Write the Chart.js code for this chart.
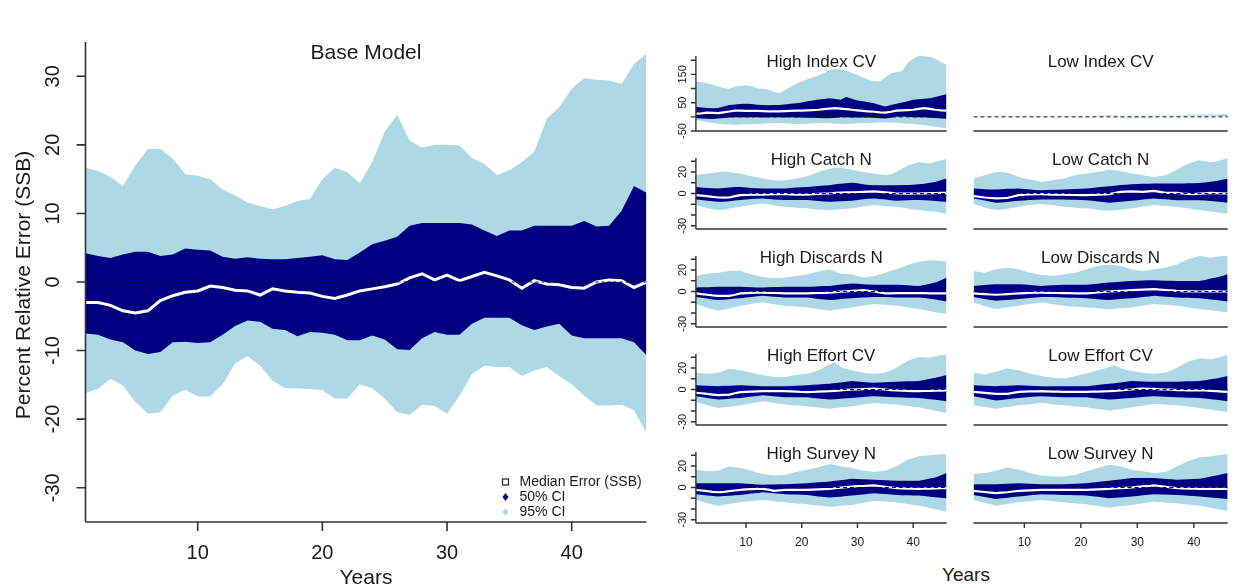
<!DOCTYPE html>
<html>
<head>
<meta charset="utf-8">
<script src="https://cdn.jsdelivr.net/npm/chart.js@4.4.1/dist/chart.umd.min.js"></script>
<style>
  body { margin: 0; background: #fff; }
  #wrap { position: relative; width: 1241px; height: 588px; overflow: hidden; font-family: "Liberation Sans", Arial, sans-serif; }
  #wrap canvas { position: absolute; }
  #yearsRight { position: absolute; left: 916px; top: 564px; width: 100px; text-align: center; font-size: 19px; color: #1a1a1a; }
</style>
</head>
<body>
<div id="wrap">
  <canvas id="base" width="660" height="588" style="left:0;top:0"></canvas>
  <div id="yearsRight">Years</div>
</div>
<script>
// simulation years
const years = [1,2,3,4,5,6,7,8,9,10,11,12,13,14,15,16,17,18,19,20,21,22,23,24,25,26,27,28,29,30,31,32,33,34,35,36,37,38,39,40,41,42,43,44,45,46];

// Base model: percent relative error in SSB
const baseHi95 = [16.7,16.2,15.3,14.0,17.0,19.4,19.4,18.0,15.7,15.5, 15.0,13.5,12.6,11.6,11.1,10.6,11.1,11.8,12.1,15.0, 16.7,16.0,14.4,17.5,21.9,24.4,20.6,19.6,20.0,20.0, 19.9,18.1,17.2,15.6,16.3,17.5,19.0,23.8,25.5,28.2, 29.7,29.5,29.4,28.9,31.8,33.3];
const baseHi50 = [4.2,3.8,3.5,4.0,4.4,4.4,3.8,4.0,4.9,4.7, 4.6,3.7,3.4,3.6,3.4,3.3,3.3,3.5,3.7,3.9, 3.3,3.2,4.3,5.5,6.0,6.6,8.2,8.6,8.6,8.6, 8.6,8.4,7.5,6.7,7.5,7.5,8.2,8.2,8.2,8.2, 8.9,8.1,8.2,10.4,14.0,13.0];
const baseMed = [-3.0,-3.0,-3.4,-4.2,-4.5,-4.2,-2.7,-2.0,-1.5,-1.3, -0.6,-0.8,-1.2,-1.3,-1.9,-1.0,-1.3,-1.5,-1.6,-2.1, -2.4,-1.9,-1.3,-1.0,-0.7,-0.3,0.6,1.2,0.3,1.0, 0.2,0.8,1.4,0.9,0.3,-0.9,0.2,-0.3,-0.4,-0.8, -0.9,0.0,0.3,0.2,-0.8,0.0];
const baseLo50 = [-7.5,-7.7,-8.4,-8.8,-10.0,-10.5,-10.2,-8.8,-8.7,-8.9, -8.8,-7.7,-6.4,-5.6,-5.8,-6.8,-7.0,-7.9,-7.3,-7.4, -7.7,-8.5,-8.5,-7.8,-8.4,-9.8,-9.9,-8.2,-7.3,-7.7, -7.7,-6.1,-5.2,-5.2,-5.2,-6.3,-7.0,-6.5,-6.1,-7.8, -8.2,-8.2,-8.2,-8.2,-8.8,-10.7];
const baseLo95 = [-16.2,-15.6,-14.1,-15.1,-17.5,-19.2,-19.0,-16.6,-15.7,-16.7, -16.7,-14.9,-11.9,-10.8,-12.2,-14.4,-15.5,-15.5,-15.6,-15.8, -17.0,-17.0,-14.9,-15.5,-17.0,-19.0,-19.4,-17.9,-18.1,-19.2, -16.6,-13.4,-12.2,-12.4,-12.4,-13.7,-12.9,-12.4,-13.7,-14.9, -16.6,-18.0,-18.0,-17.9,-18.7,-22.0];

// High Index CV
const hiIndexHi95 = [125,122,119,113,107,102,99,106,110,111, 108,101,99,97,88,84,95,106,117,125, 133,140,146,155,166,169,167,164,156,149, 138,130,127,125,140,154,158,162,190,205, 216,214,212,205,194,184];
const hiIndexHi50 = [36,33,31,30,31,37,42,44,45,46, 45,43,42,41,42,42,44,46,48,51, 55,58,61,63,66,63,60,70,64,58, 55,52,48,42,37,42,46,51,55,60, 62,64,66,70,75,80];
const hiIndexMed = [11,12,15,14,13,16,19,22,22,21, 21,21,20,19,19,19,20,21,22,22, 23,24,25,27,29,31,29,27,25,23, 21,19,18,16,15,18,22,23,24,25, 28,31,28,25,23,22];
const hiIndexLo50 = [-5,-6,-7,-8,-6,-4,-2,-1,-1,-1, -1,-1,-2,-1,-1,-1,-2,-1,-2,-2, -3,-3,-4,-5,-5,-3,-1,-1,-2,-2, -2,-2,-3,-5,-6,-3,0,1,0,-1, -1,-1,-3,-4,-6,-7];
const hiIndexLo95 = [-11,-15,-19,-22,-24,-26,-27,-28,-27,-26, -26,-25,-24,-23,-22,-22,-23,-24,-25,-25, -24,-23,-22,-22,-23,-24,-25,-25,-24,-23, -22,-22,-21,-20,-20,-20,-21,-23,-24,-25, -27,-30,-32,-35,-38,-40];

// Low Index CV
const loIndexHi95 = [3,3,2,3,3,4,4,3,3,3, 3,2,2,2,2,2,3,3,3,4, 4,4,5,5,6,6,5,5,5,5, 5,5,5,4,5,5,5,6,7,8, 8,8,8,8,9,9];
const loIndexHi50 = [1,1,1,1,1,1,1,1,1,1, 1,1,1,1,1,1,1,1,1,1, 1,1,1,1,2,2,2,3,3,3, 3,2,2,2,2,2,2,2,3,3, 3,3,3,3,4,4];
const loIndexMed = [-1,-1,-1,-1,-1,-1,-1,0,0,0, 0,0,0,0,0,0,0,0,0,0, 0,0,0,0,0,0,1,1,1,1, 1,1,1,0,0,0,0,0,0,0, 0,0,0,0,0,0];
const loIndexLo50 = [-1,-1,-1,-1,-1,-1,-1,-1,-1,-1, -1,-1,-1,-1,-1,-1,-1,-1,-1,-1, -1,-1,-1,-1,-1,-1,-1,-1,-1,-1, -1,-1,-1,-1,-1,-1,-1,-1,-1,-1, -1,-1,-1,-1,-2,-2];
const loIndexLo95 = [-3,-3,-3,-3,-3,-3,-3,-3,-3,-3, -3,-3,-3,-3,-3,-3,-3,-3,-3,-3, -3,-3,-3,-3,-3,-3,-3,-3,-3,-3, -3,-3,-3,-3,-3,-3,-3,-3,-3,-3, -3,-3,-3,-4,-4,-4];

// High Catch N
const hiCatchHi95 = [17,18,18.5,19,20,20.5,20,19,18.5,17, 16,15,14,13,12.3,12,12.3,13,14,15, 16,18,20,21.5,23,24,24,23,22,21, 20,19,18.5,18,17,18,20,23,26,27.5, 29,28.5,28,29.5,31,32];
const hiCatchHi50 = [6,5.5,5,4.8,4.6,5,5.5,6,6,5.5, 5,4.8,4.6,4.6,4.6,4.6,4.6,5,5.5,5.8, 6,6.5,7,7.4,7.7,8.5,9,9.5,10,9.5, 8.5,8,7.7,7.7,7.7,7.7,7.7,8,8,8.2, 8.6,9,10,10.8,12.5,14];
const hiCatchMed = [-1.5,-2,-2.5,-3.2,-3.7,-3.8,-3.7,-2.5,-1.5,-1.2, -1,-1,-1,-0.8,-0.6,-0.6,-0.6,-0.8,-1,-1, -1,-0.6,-0.3,0,0,0.5,0.8,1,1,1.4, 1.6,1.8,2,1.6,1,0.5,0,0,-0.2,0, 0,0.2,0.3,0.4,0.5,0.6];
const hiCatchLo50 = [-5.5,-6,-6.8,-7.3,-7.7,-7.7,-7.2,-6.6,-6,-5.5, -5,-4.8,-4.6,-5,-5.5,-5.8,-6,-6,-6,-6, -6,-6.5,-7,-7.5,-7.7,-7.5,-7.2,-7,-6.8,-6, -5.3,-4.8,-4.6,-5,-5.6,-6.2,-6.8,-6.5,-6.2,-6, -6,-6.2,-6.5,-7,-7.4,-7.7];
const hiCatchLo95 = [-10.8,-12,-13.5,-14.6,-15.4,-15,-14,-13,-12.3,-11.5, -10.5,-9.8,-9.2,-10,-11,-11.8,-12.3,-12.8,-13.2,-13.5, -13.8,-14.3,-14.8,-15.2,-15.4,-15,-14.5,-14.2,-13.8,-13, -12,-11.3,-10.8,-11.2,-11.8,-12,-12.3,-13,-14,-14.8, -15.4,-16,-16.5,-17,-18,-19];

// Low Catch N
const loCatchHi95 = [13.8,15.5,17,18.5,20,20,19.4,17.5,15.4,14, 13,12,10.8,11.5,12.3,13,13.8,15.5,17,18, 18.5,19.3,20,21,22,21.5,21,20,18.5,17.8, 17,16,15.4,16,17,19.5,22,25,27.7,29.5, 30.8,30,29,30,31.4,33];
const loCatchHi50 = [4.6,4.3,4,3.8,3.7,4,4.3,4.5,4.6,4.2, 3.8,3.3,3,3.2,3.4,3.6,3.7,4,4.2,4.4, 4.6,5.2,5.8,6.3,6.8,7.3,7.8,8.2,8.6,8.8, 9,9.1,9.2,9.2,9.2,9.2,9.2,9.4,9.5,9.6, 9.8,10.3,11,11.7,12.8,13.8];
const loCatchMed = [-2.5,-3,-3.7,-4.2,-4.6,-4.4,-4,-2.8,-1.5,-1, -0.8,-0.7,-0.6,-0.8,-1,-1,-1,-1.2,-1.4,-1.5, -1.5,-1.2,-1,-0.8,-0.6,0.5,1.5,1.8,2,1.8, 1.5,2,2.5,1.5,0.6,0.6,0.6,0,-0.4,-0.6, -0.2,0.2,0.6,0.4,0.2,0];
const loCatchLo50 = [-4.6,-5.5,-6.5,-7.6,-8.6,-8.4,-7.8,-7.2,-6.8,-6.4, -6,-5.8,-5.5,-5.5,-5.5,-5.5,-5.5,-5.7,-5.9,-6, -6.2,-6.8,-7.4,-8,-8.6,-8.2,-7.6,-7.2,-6.8,-6.2, -5.5,-5,-4.6,-5,-5.4,-5.8,-6.2,-6.2,-6.2,-6.2, -6.2,-6.6,-7,-7.5,-8,-8.6];
const loCatchLo95 = [-9.8,-11.5,-13,-14.3,-15.4,-15,-14.2,-13.2,-12.3,-11.5, -10.8,-10.2,-9.8,-10.4,-11,-11.7,-12.3,-12.8,-13.3,-13.6, -13.8,-14.4,-15,-15.6,-16,-15.6,-15,-14.4,-13.8,-13, -12.2,-11.4,-10.8,-11.2,-11.7,-12,-12.3,-13,-13.8,-14.6, -15.4,-16,-16.8,-17.5,-18.2,-19];

// High Discards N
const hiDiscHi95 = [14.5,15.5,16.6,17,17.5,18.3,19,19.2,19,17.5, 16,14.7,13.5,12.8,12.3,12.5,13,13.8,14.5,15.2, 16,17.3,18.5,19.6,20.6,18.5,16.6,16.3,16,14.5, 13,13.7,14.5,16,17.5,19,20.6,22.5,24.6,26.2, 27.7,28.4,29,28.8,28.4,28];
const hiDiscHi50 = [3.7,3.9,4,4.2,4.3,4.3,4.3,4.3,4.3,4.1, 4,3.8,3.7,3.9,4.1,4.2,4.3,4.3,4.3,4.3, 4.3,4.5,4.8,5,5.2,5.8,6.4,7,7.4,7.1, 6.8,6.5,6.2,6.2,6.2,6.2,6.2,6,5.7,5.4, 5.2,6,7.2,8.3,10.5,13];
const hiDiscMed = [-1.8,-2.4,-3,-3.6,-4,-4,-4,-3,-1.8,-1.5, -1.2,-1,-1,-1.2,-1.4,-1.6,-1.8,-1.8,-1.8,-1.8, -1.8,-1.6,-1.4,-1.2,-1,-0.6,-0.2,0.2,0.6,0.9, 1.2,0.6,0,-0.8,-1.8,-1.8,-1.6,-1.5,-1.5,-1.5, -1.6,-1.6,-1.7,-1.8,-1.8,-1.8];
const hiDiscLo50 = [-5,-5.8,-6.6,-7.4,-8,-7.6,-7.1,-6.6,-6.2,-5.6, -5,-4.5,-4,-4.4,-4.8,-5.2,-5.5,-5.5,-5.5,-5.5, -5.5,-6.2,-6.9,-7.5,-8,-7.6,-7,-6.6,-6.2,-5.9, -5.6,-5.3,-5,-5.1,-5.2,-5.4,-5.5,-5.5,-5.5,-5.5, -5.5,-6,-6.8,-7.5,-8.4,-9.2];
const hiDiscLo95 = [-11.7,-13.3,-15,-16.5,-17.8,-17,-15.8,-14.5,-13.2,-12.3, -11.4,-10.8,-10.2,-11,-11.8,-12.5,-13.2,-13.6,-14,-14.4, -14.8,-15.6,-16.4,-17.2,-17.8,-17,-16.2,-15.5,-14.8,-14, -13.2,-12.4,-11.7,-12,-12.4,-12.8,-13.2,-14,-14.8,-15.6, -16.3,-17.3,-18.3,-19.2,-20.1,-21];

// Low Discards N
const loDiscHi95 = [19,18.2,17.5,19,20.6,21.4,22,21.4,20.6,19, 17.5,16.4,15.4,15,14.5,15.2,16,16.8,17.5,19, 20.6,22.2,23.7,24.5,25.2,24.5,23.7,22.2,20.6,19.8, 19,19.8,20.6,21.3,22,23.6,25.2,27.6,30,31.5, 33,32.2,31.4,32.2,33,34];
const loDiscHi50 = [5.2,5.6,6,6.4,6.8,6.8,6.8,6.8,6.8,6.4, 6,5.6,5.2,5.5,5.8,6,6.2,6.2,6.2,6.2, 6.2,6.7,7.2,7.8,8.3,8.7,9.1,9.5,9.8,10, 10.2,10.4,10.5,10.3,10.1,9.9,9.8,9.8,9.8,9.8, 9.8,10.8,12,13,14.5,16];
const loDiscMed = [-1.8,-2.2,-2.5,-2.8,-3,-2.8,-2.5,-2.1,-1.8,-1.5, -1.2,-1,-1,-1.2,-1.3,-1.4,-1.5,-1.6,-1.7,-1.8, -1.8,-1.4,-0.9,-0.4,0,0.3,0.6,0.9,1.2,1.5, 1.8,2,2.2,1.8,1.4,1,0.6,0.4,0.2,0.1, 0,0.2,0.4,0.2,0,0];
const loDiscLo50 = [-5,-6,-7,-7.8,-8.6,-8.2,-7.8,-7.4,-7,-6.5, -6,-5.5,-5,-5.1,-5.2,-5.4,-5.5,-5.7,-5.9,-6.1, -6.2,-6.7,-7.1,-7.6,-8,-7.5,-7,-6.6,-6.2,-5.7, -5.2,-4.6,-4,-4.4,-4.8,-5.2,-5.5,-5.7,-5.9,-6.1, -6.2,-6.8,-7.4,-8,-8.6,-9.2];
const loDiscLo95 = [-10.2,-11.8,-13.4,-15,-16.3,-15.5,-14.7,-14,-13.2,-12.4, -11.6,-10.9,-10.2,-11,-11.8,-12.5,-13.2,-13.6,-14.1,-14.5, -14.8,-15.2,-15.6,-16,-16.3,-16,-15.6,-15.2,-14.8,-14, -13.2,-12.4,-11.7,-12,-12.4,-12.8,-13.2,-14,-14.8,-15.6, -16.3,-16.9,-17.5,-18.2,-18.8,-19.4];

// High Effort CV
const hiEffortHi95 = [15.6,15,14.7,15,15.6,17.5,19.4,18.7,17.8,16.7, 15.6,14.5,13.4,12.5,11.6,11.5,11.6,12.5,13.4,14, 14.7,16.2,17.8,20.5,23.4,25,21,19.4,17.8,16.7, 15.6,15.2,14.7,15,15.6,18,20.3,23.5,26.6,28.5, 30.3,30,29.7,30.8,32,32];
const hiEffortHi50 = [4,3.8,3.5,3.3,3.1,3.4,3.6,3.8,4,3.8, 3.6,3.3,3.1,3.1,3.1,3.1,3.1,3.3,3.6,3.8, 4,4.3,4.6,5,5.3,6,6.6,7.2,7.8,7.4, 7,6.6,6.2,6.5,6.8,7,7.2,7.4,7.6,7.7, 7.8,8.8,9.9,10.9,12.2,13.4];
const hiEffortMed = [-3.1,-3.5,-4,-4.7,-5.3,-5,-4.7,-3.5,-2.5,-2.2, -1.9,-1.7,-1.6,-1.6,-1.6,-1.6,-1.6,-1.8,-2,-2.3, -2.5,-2.3,-2,-1.8,-1.6,-1.2,-0.8,-0.4,0,0.2, 0.4,0.7,0.9,0.4,0,-0.5,-0.9,-1.1,-1.3,-1.5, -1.6,-1.4,-1.3,-1.1,-1,-0.9];
const hiEffortLo50 = [-6.2,-7,-7.8,-8.6,-9.4,-9,-8.6,-8.2,-7.8,-7.2, -6.6,-6,-5.3,-5.8,-6.3,-6.8,-7.2,-7.2,-7.2,-7.2, -7.2,-7.8,-8.3,-8.9,-9.4,-9,-8.6,-8.2,-7.8,-7.4, -7,-6.6,-6.2,-6.5,-6.8,-7,-7.2,-7.4,-7.6,-7.7, -7.8,-8.4,-9,-9.6,-10.3,-10.9];
const hiEffortLo95 = [-11.6,-13,-14.5,-16,-17.2,-16.6,-16,-15.3,-14.7,-13.7, -12.8,-11.8,-10.9,-11.7,-12.5,-13.3,-14,-14.4,-14.8,-15.2, -15.6,-16.2,-16.8,-17.4,-17.8,-17.3,-16.8,-16.2,-15.6,-14.8, -14,-13.2,-12.5,-12.9,-13.3,-13.6,-14,-14.7,-15.3,-16, -16.6,-17.6,-18.6,-19.7,-20.8,-21.9];

// Low Effort CV
const loEffortHi95 = [15.6,14.8,14,15.3,16.6,18.2,19.7,18.7,17.8,16.2, 14.7,13.6,12.5,11.7,10.9,10.6,10.3,11.4,12.5,13.6, 14.7,16.2,17.8,19.4,21,22.8,19.7,18.4,17.2,16.4, 15.6,15.1,14.7,15.1,15.6,18,20.3,23.1,26,27.5, 29,28.5,28,29.3,30.6,32];
const loEffortHi50 = [4,3.8,3.5,3.3,3.1,3.4,3.6,3.8,4,3.8, 3.6,3.3,3.1,3.1,3.1,3.1,3.1,3.1,3.1,3.1, 3.1,3.6,4.2,4.8,5.3,5.9,6.6,7.2,7.8,7.6, 7.5,7.3,7.2,7.2,7.2,7.2,7.2,7.4,7.6,7.7, 7.8,8.6,9.5,10.3,11.4,12.5];
const loEffortMed = [-2.2,-2.6,-3.1,-3.6,-4,-4,-4,-3.1,-2.2,-2, -1.8,-1.7,-1.6,-1.8,-1.9,-2,-2.2,-2.2,-2.2,-2.2, -2.2,-2,-1.9,-1.7,-1.6,-1.2,-0.8,-0.4,0,0.5, 0.9,0.7,0.5,0.2,0,-0.2,-0.5,-0.7,-0.9,-0.9, -0.9,-0.9,-1.2,-1.5,-1.9,-2.2];
const loEffortLo50 = [-6.2,-7.2,-8.2,-9.3,-10.3,-9.7,-9,-8.4,-7.8,-7.4, -7,-6.6,-6.2,-6.5,-6.7,-7,-7.2,-7.2,-7.2,-7.2, -7.2,-7.8,-8.3,-8.9,-9.4,-9,-8.6,-8.2,-7.8,-7.4, -7,-6.6,-6.2,-6.5,-6.7,-7,-7.2,-7.4,-7.6,-7.7, -7.8,-8.4,-9,-9.6,-10.3,-10.9];
const loEffortLo95 = [-14.7,-15.5,-16.3,-17,-17.8,-17,-16.3,-15.5,-14.7,-14.1, -13.6,-13,-12.5,-13,-13.6,-14.1,-14.7,-15.2,-15.7,-16.1, -16.6,-17.4,-18.1,-18.9,-19.7,-18.9,-18.1,-17.4,-16.6,-15.8, -15,-14.2,-13.4,-13.7,-14,-14.4,-14.7,-15.3,-15.9,-16.6, -17.2,-18,-18.7,-19.5,-20.2,-21];

// High Survey N
const hiSurveyHi95 = [16.6,15.8,15,15.2,15.6,17.7,19.7,18.9,18.1,16.9, 15.6,14,12.5,11.8,11.2,11.5,11.9,13.2,14.4,15.5, 16.6,17.7,18.8,20.4,21.9,20.8,19.7,18.9,18.1,16.9, 15.6,15,14.4,15,15.6,17.6,19.7,22.8,25.9,27.5, 29,29.5,30,30.4,30.8,31.2];
const hiSurveyHi50 = [4,4,4,4,4,4,4,4,4,3.6, 3.2,2.8,2.5,2.7,2.9,3,3.1,3.3,3.6,3.8, 4,4.4,4.8,5.2,5.6,6.2,6.8,7.5,8.1,7.9, 7.6,7.4,7.2,6.9,6.7,6.4,6.2,6.2,6.2,6.2, 6.2,7.2,8.3,9.4,11.4,13.4];
const hiSurveyMed = [-2.2,-2.8,-3.4,-4,-4.4,-4,-3.4,-2.8,-2.2,-1.8, -1.5,-1.3,-1.2,-2,-3.1,-2.6,-2.2,-2.2,-2.2,-2.2, -2.2,-2,-1.7,-1.5,-1.2,-0.7,-0.2,0.4,0.9,1.2, 1.4,1.7,1.9,1.3,0.7,0,-0.6,-0.8,-1,-1.1, -1.2,-1.1,-1,-0.8,-0.7,-0.6];
const hiSurveyLo50 = [-6.2,-6.8,-7.4,-8,-8.4,-8,-7.6,-7.2,-6.9,-6.3, -5.6,-5,-4.4,-4.9,-5.4,-5.8,-6.2,-6.4,-6.6,-6.8, -6.9,-7.6,-8.3,-8.9,-9.4,-8.9,-8.5,-8,-7.5,-7, -6.4,-5.8,-5.3,-5.7,-6.1,-6.5,-6.9,-7.1,-7.3,-7.4, -7.5,-8,-8.5,-9,-9.5,-10];
const hiSurveyLo95 = [-11.6,-13,-14.4,-15.8,-16.9,-16.1,-15.3,-14.5,-13.8,-13.2, -12.6,-12,-11.6,-12.2,-12.7,-13.2,-13.8,-14.3,-14.8,-15.2, -15.6,-16.2,-16.7,-17.3,-17.8,-17.4,-17,-16.6,-16.2,-15.2, -14.3,-13.4,-12.5,-12.8,-13.1,-13.4,-13.8,-14.6,-15.4,-16.2, -16.9,-18,-19.1,-20.2,-21.4,-22.5];

// Low Survey N
const loSurveyHi95 = [12.5,13,13.4,14.5,15.6,17.2,18.8,17.7,16.6,15, 13.4,12.3,11.2,10.8,10.3,10.3,10.3,11.1,11.9,13.4, 15,16.5,18.1,19.7,21.2,20.5,19.7,18.2,16.6,15.8, 15,14.2,13.4,13.9,14.4,17,19.7,22,24.4,26.3, 28.1,28.6,29,29.7,30.4,31.2];
const loSurveyHi50 = [3.1,3.1,3.1,3.1,3.1,3.3,3.6,3.8,4,3.8, 3.5,3.3,3.1,3.1,3.1,3.1,3.1,3.3,3.6,3.8, 4,4.6,5.1,5.7,6.2,6.9,7.5,8.2,8.8,8.8, 8.8,8.8,8.8,8.4,8,7.6,7.2,7.4,7.7,7.9, 8.1,9.1,10.2,11.2,12.3,13.4];
const loSurveyMed = [-3.1,-3.7,-4.2,-4.8,-5.3,-4.8,-4.4,-3.7,-3.1,-2.9, -2.6,-2.4,-2.2,-2.2,-2.2,-2.2,-2.2,-2.2,-2.2,-2.2, -2.2,-2,-1.7,-1.5,-1.2,-0.9,-0.6,-0.3,0,0.5, 1,1.4,1.9,1.3,0.7,0,-0.6,-0.8,-1,-1.1, -1.2,-1.2,-1.2,-1.2,-1.2,-1.2];
const loSurveyLo50 = [-6.9,-7.8,-8.8,-9.7,-10.6,-10,-9.5,-8.9,-8.4,-7.8, -7.3,-6.7,-6.2,-6.4,-6.6,-6.7,-6.9,-7,-7.2,-7.3, -7.5,-8.1,-8.7,-9.4,-10,-9.6,-9.2,-8.8,-8.4,-7.9, -7.3,-6.8,-6.2,-6.4,-6.6,-6.7,-6.9,-7.3,-7.7,-8, -8.4,-8.8,-9.3,-9.7,-10.2,-10.6];
const loSurveyLo95 = [-11.6,-12.9,-14.3,-15.6,-16.9,-16.1,-15.4,-14.6,-13.8,-13.3, -12.7,-12.2,-11.6,-12.2,-12.7,-13.3,-13.8,-14.3,-14.7,-15.2, -15.6,-16.4,-17.2,-18,-18.8,-18.1,-17.5,-16.8,-16.2,-15.4, -14.6,-13.9,-13.1,-13.5,-13.9,-14.3,-14.7,-15.3,-15.8,-16.4, -16.9,-17.9,-18.9,-19.9,-20.9,-21.9];

// axis ticks and labels
const baseXTicks = [10, 20, 30, 40];
const baseYTicks = [-30, -20, -10, 0, 10, 20, 30];
const indexYTicks = [-50, 0, 50, 100, 150, 200];
const indexYLabels = [-50, 50, 150];
const smallYTicks = [-30, -20, -10, 0, 10, 20, 30];
const smallYLabels = [-30, 0, 20];
const legendLabels = ['Median Error (SSB)', '50% CI', '95% CI'];

const NAVY = '#000080';
const LIGHT = '#add8e6';
const FONT = '"Liberation Sans", Arial, sans-serif';

function pts(vals) {
  return vals.map((v, i) => ({ x: years[i], y: v }));
}

// median on top, then 50% band, then 95% band underneath
function bandSets(s, medWidth) {
  const none = 'rgba(0,0,0,0)';
  return [
    { data: pts(s.med), borderColor: '#ffffff', borderWidth: medWidth, fill: false },
    { data: pts(s.hi50), borderColor: none, borderWidth: 0, backgroundColor: NAVY, fill: 2 },
    { data: pts(s.lo50), borderColor: none, borderWidth: 0, fill: false },
    { data: pts(s.hi95), borderColor: none, borderWidth: 0, backgroundColor: LIGHT, fill: 4 },
    { data: pts(s.lo95), borderColor: none, borderWidth: 0, fill: false }
  ];
}

// R-style axes, titles and legend drawn against the chart's own scales
const rAxes = {
  id: 'rAxes',
  afterDatasetsDraw(chart, args, o) {
    const { ctx, chartArea: a, scales: { y } } = chart;
    const y0 = y.getPixelForValue(0);
    ctx.save();
    ctx.beginPath();
    ctx.rect(a.left, a.top, a.right - a.left, a.bottom - a.top);
    ctx.clip();
    ctx.beginPath();
    ctx.setLineDash(o.dash);
    ctx.strokeStyle = '#111';
    ctx.lineWidth = 1;
    ctx.moveTo(a.left, y0);
    ctx.lineTo(a.right, y0);
    ctx.stroke();
    ctx.restore();
  },
  afterDraw(chart, args, o) {
    const { ctx, chartArea: a, scales: { x, y } } = chart;
    ctx.save();
    ctx.strokeStyle = '#333';
    ctx.lineWidth = o.lineWidth;
    ctx.fillStyle = '#1a1a1a';
    ctx.beginPath();
    ctx.moveTo(a.left, a.bottom);
    ctx.lineTo(a.right, a.bottom);
    if (o.yTicks.length) {
      ctx.moveTo(a.left, a.top);
      ctx.lineTo(a.left, a.bottom);
    }
    o.xTicks.forEach(v => {
      const px = x.getPixelForValue(v);
      ctx.moveTo(px, a.bottom);
      ctx.lineTo(px, a.bottom + o.tick);
    });
    o.yTicks.forEach(v => {
      const py = y.getPixelForValue(v);
      ctx.moveTo(a.left, py);
      ctx.lineTo(a.left - o.tick, py);
    });
    ctx.stroke();

    ctx.textAlign = 'center';
    ctx.textBaseline = 'middle';
    ctx.font = o.xFont + 'px ' + FONT;
    o.xTicks.forEach(v => ctx.fillText(String(v), x.getPixelForValue(v), a.bottom + o.xGap));
    ctx.font = o.yFont + 'px ' + FONT;
    o.yLabels.forEach(v => {
      ctx.save();
      ctx.translate(a.left - o.yGap, y.getPixelForValue(v));
      ctx.rotate(-Math.PI / 2);
      ctx.fillText(String(v), 0, 0);
      ctx.restore();
    });

    ctx.font = o.titleFont + 'px ' + FONT;
    ctx.fillText(o.heading, (a.left + a.right) / 2, a.bottom - o.headingUp);

    if (o.xTitle) {
      ctx.font = o.axisTitleFont + 'px ' + FONT;
      ctx.fillText(o.xTitle, (a.left + a.right) / 2, a.bottom + o.xTitleGap);
    }
    if (o.yTitle) {
      ctx.save();
      ctx.font = o.axisTitleFont + 'px ' + FONT;
      ctx.translate(o.yTitleX, (a.top + a.bottom) / 2 + 3);
      ctx.rotate(-Math.PI / 2);
      ctx.fillText(o.yTitle, 0, 0);
      ctx.restore();
    }
    if (o.legend) {
      const lx = a.right - 141, tx = a.right - 127;
      const rows = [a.bottom - 40, a.bottom - 25, a.bottom - 10];
      ctx.textAlign = 'left';
      ctx.font = '14px ' + FONT;
      rows.forEach((ry, i) => ctx.fillText(legendLabels[i], tx, ry));
      ctx.lineWidth = 1.2;
      ctx.strokeStyle = '#222';
      ctx.strokeRect(lx - 3, rows[0] - 3, 6, 6);
      [NAVY, LIGHT].forEach((c, i) => {
        const cy = rows[i + 1];
        ctx.fillStyle = c;
        ctx.beginPath();
        ctx.moveTo(lx, cy - 4);
        ctx.lineTo(lx + 3, cy);
        ctx.lineTo(lx, cy + 4);
        ctx.lineTo(lx - 3, cy);
        ctx.closePath();
        ctx.fill();
      });
    }
    ctx.restore();
  }
};

function makeChart(canvas, series, yMin, yMax, padding, axes, medWidth) {
  return new Chart(canvas, {
    type: 'line',
    data: { datasets: bandSets(series, medWidth) },
    plugins: [rAxes],
    options: {
      responsive: false,
      animation: false,
      devicePixelRatio: 1,
      events: [],
      layout: { padding: padding },
      elements: { point: { radius: 0 }, line: { tension: 0 } },
      scales: {
        x: { type: 'linear', min: 1, max: 46, display: false },
        y: { type: 'linear', min: yMin, max: yMax, display: false }
      },
      plugins: { legend: { display: false }, tooltip: { enabled: false }, rAxes: axes }
    }
  });
}

// big panel
makeChart(document.getElementById('base'),
  { hi95: baseHi95, hi50: baseHi50, med: baseMed, lo50: baseLo50, lo95: baseLo95 },
  -35, 35,
  { left: 85.5, right: 13.5, top: 42, bottom: 66 },
  {
    heading: 'Base Model', headingUp: 469, titleFont: 21,
    xTicks: baseXTicks, yTicks: baseYTicks, yLabels: baseYTicks,
    tick: 9, lineWidth: 1.6, xFont: 20, yFont: 20, xGap: 31, yGap: 32,
    xTitle: 'Years', xTitleGap: 56, yTitle: 'Percent Relative Error (SSB)', yTitleX: 24,
    axisTitleFont: 21, legend: true, dash: [3, 3]
  },
  3);

// small panels, two columns by five rows
const smallPanels = [
  { title: 'High Index CV', col: 0, row: 0, s: { hi95: hiIndexHi95, hi50: hiIndexHi50, med: hiIndexMed, lo50: hiIndexLo50, lo95: hiIndexLo95 } },
  { title: 'Low Index CV', col: 1, row: 0, s: { hi95: loIndexHi95, hi50: loIndexHi50, med: loIndexMed, lo50: loIndexLo50, lo95: loIndexLo95 } },
  { title: 'High Catch N', col: 0, row: 1, s: { hi95: hiCatchHi95, hi50: hiCatchHi50, med: hiCatchMed, lo50: hiCatchLo50, lo95: hiCatchLo95 } },
  { title: 'Low Catch N', col: 1, row: 1, s: { hi95: loCatchHi95, hi50: loCatchHi50, med: loCatchMed, lo50: loCatchLo50, lo95: loCatchLo95 } },
  { title: 'High Discards N', col: 0, row: 2, s: { hi95: hiDiscHi95, hi50: hiDiscHi50, med: hiDiscMed, lo50: hiDiscLo50, lo95: hiDiscLo95 } },
  { title: 'Low Discards N', col: 1, row: 2, s: { hi95: loDiscHi95, hi50: loDiscHi50, med: loDiscMed, lo50: loDiscLo50, lo95: loDiscLo95 } },
  { title: 'High Effort CV', col: 0, row: 3, s: { hi95: hiEffortHi95, hi50: hiEffortHi50, med: hiEffortMed, lo50: hiEffortLo50, lo95: hiEffortLo95 } },
  { title: 'Low Effort CV', col: 1, row: 3, s: { hi95: loEffortHi95, hi50: loEffortHi50, med: loEffortMed, lo50: loEffortLo50, lo95: loEffortLo95 } },
  { title: 'High Survey N', col: 0, row: 4, s: { hi95: hiSurveyHi95, hi50: hiSurveyHi50, med: hiSurveyMed, lo50: hiSurveyLo50, lo95: hiSurveyLo95 } },
  { title: 'Low Survey N', col: 1, row: 4, s: { hi95: loSurveyHi95, hi50: loSurveyHi50, med: loSurveyMed, lo50: loSurveyLo50, lo95: loSurveyLo95 } }
];

const cols = [
  { x0: 650, w: 305, left: 695.9, right: 946.6 },
  { x0: 955, w: 286, left: 973.5, right: 1227.7 }
];
const rowBottoms = [130.9, 229, 327.1, 425.2, 523.3];

const wrap = document.getElementById('wrap');
smallPanels.forEach(p => {
  const c = cols[p.col];
  const b = rowBottoms[p.row];
  const top = p.row === 0 ? b - 75 : b - 71;
  const cTop = b - 95, cH = 125;
  const cv = document.createElement('canvas');
  cv.width = c.w;
  cv.height = cH;
  cv.style.left = c.x0 + 'px';
  cv.style.top = cTop + 'px';
  wrap.appendChild(cv);
  const isIndex = p.row === 0;
  const leftCol = p.col === 0;
  makeChart(cv, p.s,
    isIndex ? -50 : -33, isIndex ? 215 : 33,
    { left: c.left - c.x0, right: c.x0 + c.w - c.right, top: top - cTop, bottom: cTop + cH - b },
    {
      heading: p.title, headingUp: 69, titleFont: 17,
      xTicks: p.row === 4 ? baseXTicks : [],
      yTicks: leftCol ? (isIndex ? indexYTicks : smallYTicks) : [],
      yLabels: leftCol ? (isIndex ? indexYLabels : smallYLabels) : [],
      tick: 5, lineWidth: 1.4, xFont: 12, yFont: 11, xGap: 20, yGap: 13,
      xTitle: '', yTitle: '', legend: false, dash: [4, 3]
    },
    2.2);
});
</script>
</body>
</html>
